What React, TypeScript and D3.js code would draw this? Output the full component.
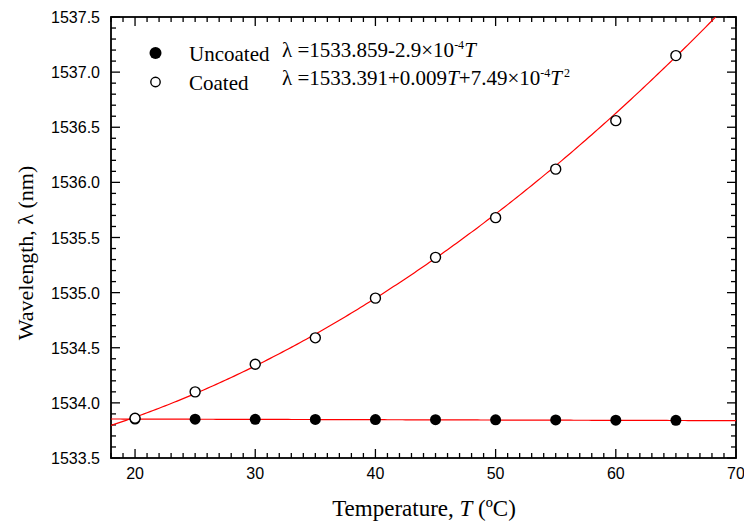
import React from "react";
import * as d3 from "d3";

const temperatures = [20, 25, 30, 35, 40, 45, 50, 55, 60, 65];
const uncoated = [1533.853, 1533.852, 1533.851, 1533.850, 1533.849, 1533.848, 1533.846, 1533.845, 1533.843, 1533.842];
const coated = [1533.86, 1534.10, 1534.35, 1534.59, 1534.95, 1535.32, 1535.68, 1536.12, 1536.56, 1537.15];
const uncoatedFit = [1533.859, -2.9e-4, 0];
const coatedFit = [1533.391, 0.009, 7.49e-4];
const xTicks = [20, 30, 40, 50, 60, 70];
const yTicks = [1533.5, 1534.0, 1534.5, 1535.0, 1535.5, 1536.0, 1536.5, 1537.0, 1537.5];
const xDomain = [18, 70];
const yDomain = [1533.5, 1537.5];

const W = 744, H = 524;
const L = 111, R = 736, T = 17, B = 458;

export default function App() {
  const x = d3.scaleLinear().domain(xDomain).range([L, R]);
  const y = d3.scaleLinear().domain(yDomain).range([B, T]);
  const poly = (c: number[]) => (t: number) => c[0] + c[1] * t + c[2] * t * t;
  const samples = d3.range(xDomain[0], xDomain[1] + 0.001, 0.25);
  const line = d3.line<number>().x((t) => x(t));
  const fitPath = (c: number[]) => line.y((t) => y(poly(c)(t)))(samples) || "";
  const xMinor = d3.range(18, 70.001, 1);
  const yMinor = d3.range(1533.5, 1537.5001, 0.1);
  const tickFont = "'Liberation Sans', Arial, sans-serif";
  const serif = "'Liberation Serif', 'Times New Roman', serif";
  return (
    <svg width={W} height={H} style={{ position: "absolute", left: 0, top: 0, background: "#fff" }}>
      <defs>
        <clipPath id="plot">
          <rect x={L} y={T} width={R - L} height={B - T} />
        </clipPath>
      </defs>
      <rect width={W} height={H} fill="#fff" />
      {/* ticks */}
      <g stroke="#000" strokeWidth={1.3}>
        {xMinor.map((t, i) => {
          const major = xTicks.some((v) => Math.abs(v - t) < 1e-6);
          const len = major ? 9 : 5;
          return (
            <g key={"xt" + i}>
              <line x1={x(t)} x2={x(t)} y1={B} y2={B - len} />
              <line x1={x(t)} x2={x(t)} y1={T} y2={T + len} />
            </g>
          );
        })}
        {yMinor.map((v, i) => {
          const major = yTicks.some((w) => Math.abs(w - v) < 1e-6);
          const len = major ? 9 : 5;
          return (
            <g key={"yt" + i}>
              <line x1={L} x2={L + len} y1={y(v)} y2={y(v)} />
              <line x1={R} x2={R - len} y1={y(v)} y2={y(v)} />
            </g>
          );
        })}
      </g>
      <rect x={L} y={T} width={R - L} height={B - T} fill="none" stroke="#000" strokeWidth={1.8} />
      {/* tick labels */}
      <g fontFamily={tickFont} fontSize={16} fill="#000">
        {xTicks.map((t) => (
          <text key={"xl" + t} x={x(t)} y={479} textAnchor="middle">{t}</text>
        ))}
        {yTicks.map((v) => (
          <text key={"yl" + v} x={100} y={y(v) + 6} textAnchor="end">{v.toFixed(1)}</text>
        ))}
      </g>
      {/* axis titles */}
      <text x={424} y={516} textAnchor="middle" fontFamily={serif} fontSize={23}>
        Temperature, <tspan fontStyle="italic">T</tspan> (ºC)
      </text>
      <text transform="translate(33,253) rotate(-90)" textAnchor="middle" fontFamily={serif} fontSize={22}>
        Wavelength, λ (nm)
      </text>
      {/* fit lines */}
      <g clipPath="url(#plot)" fill="none" stroke="#ff0000" strokeWidth={1.2}>
        <path d={fitPath(uncoatedFit)} />
        <path d={fitPath(coatedFit)} />
      </g>
      {/* points */}
      {temperatures.map((t, i) => (
        <circle key={"u" + i} cx={x(t)} cy={y(uncoated[i])} r={5.5} fill="#000" />
      ))}
      {temperatures.map((t, i) => (
        <circle key={"c" + i} cx={x(t)} cy={y(coated[i])} r={5} fill="#fff" stroke="#000" strokeWidth={1.4} />
      ))}
      {/* legend */}
      <circle cx={155.5} cy={53} r={6} fill="#000" />
      <circle cx={155.5} cy={82} r={4.7} fill="#fff" stroke="#000" strokeWidth={1.4} />
      <g fontFamily={serif} fontSize={21}>
        <text x={189} y={60.5}>Uncoated</text>
        <text x={189} y={90}>Coated</text>
        <text x={282} y={56.5}>
          λ =1533.859-2.9×10<tspan fontSize={12} dy={-8}>-4</tspan>
          <tspan fontStyle="italic" dy={8}>T</tspan>
        </text>
        <text x={282} y={85}>
          λ =1533.391+0.009<tspan fontStyle="italic">T</tspan>+7.49×10<tspan fontSize={12} dy={-8}>-4</tspan>
          <tspan fontStyle="italic" dy={8}>T</tspan>
          <tspan fontSize={12} dy={-8} dx={2}>2</tspan>
        </text>
      </g>
    </svg>
  );
}
